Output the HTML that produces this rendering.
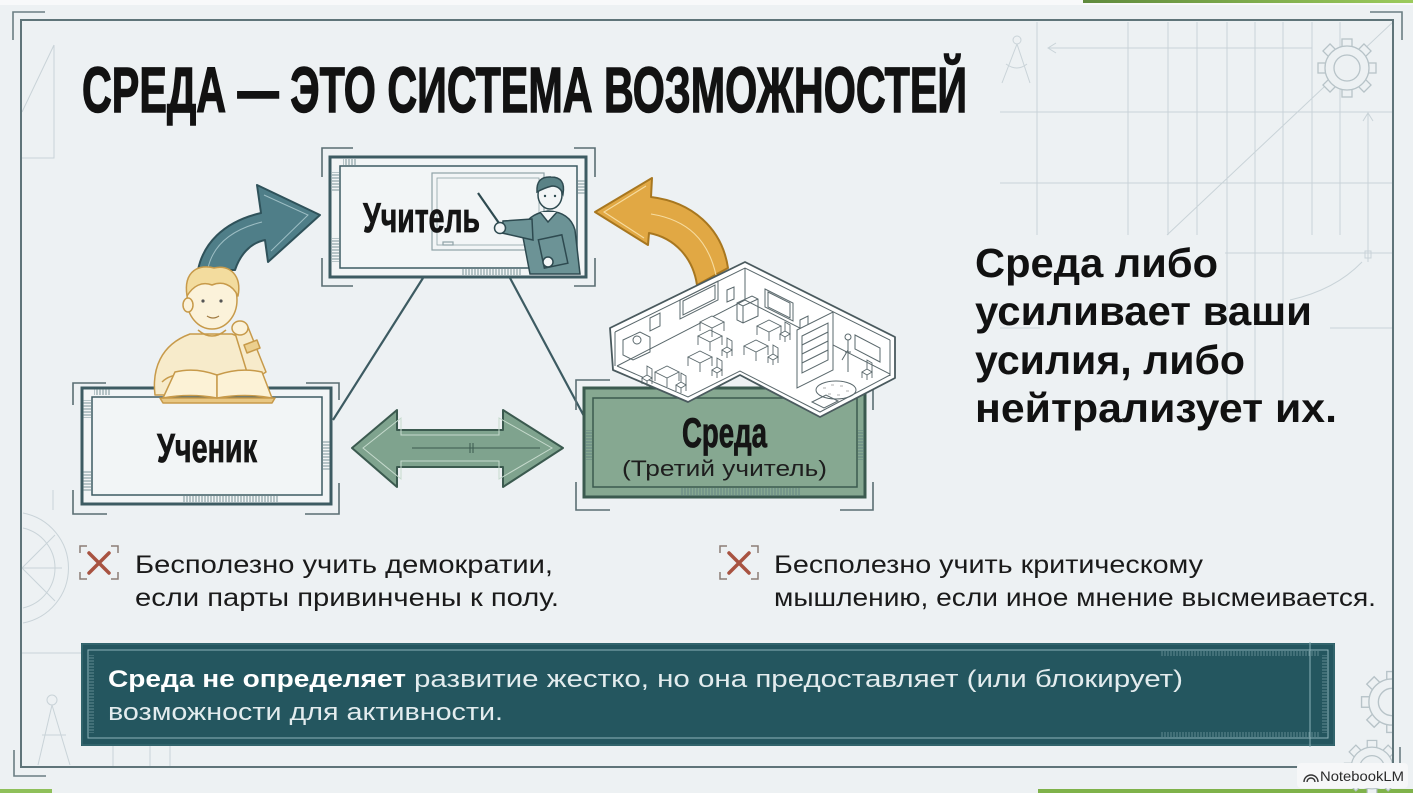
<!DOCTYPE html>
<html><head><meta charset="utf-8"><style>
html,body{margin:0;padding:0;background:#edf1f3;}
svg{display:block}
text{font-family:"Liberation Sans",sans-serif;}
</style></head><body>
<svg width="1413" height="793" viewBox="0 0 1413 793" xmlns="http://www.w3.org/2000/svg">
<defs>
<linearGradient id="gtop" x1="0" x2="1" y1="0" y2="0"><stop offset="0" stop-color="#5f8a3d"/><stop offset="1" stop-color="#9ccb5c"/></linearGradient>
<pattern id="tv" width="3" height="10" patternUnits="userSpaceOnUse"><line x1="1" y1="0" x2="1" y2="10" stroke="#5b7a80" stroke-width="0.8"/></pattern>
<pattern id="th" width="10" height="3" patternUnits="userSpaceOnUse"><line x1="0" y1="1" x2="10" y2="1" stroke="#5b7a80" stroke-width="0.8"/></pattern>
<pattern id="tvl" width="3" height="10" patternUnits="userSpaceOnUse"><line x1="1" y1="0" x2="1" y2="10" stroke="#6f979d" stroke-width="0.8"/></pattern>
<pattern id="thl" width="10" height="3" patternUnits="userSpaceOnUse"><line x1="0" y1="1" x2="10" y2="1" stroke="#6f979d" stroke-width="0.8"/></pattern>
<g id="gear" fill="#edf1f3" stroke="#b7c3c8" stroke-width="1.3">
<rect x="-5" y="-29" width="10" height="12"/>
<rect x="-5" y="-29" width="10" height="12" transform="rotate(45)"/>
<rect x="-5" y="-29" width="10" height="12" transform="rotate(90)"/>
<rect x="-5" y="-29" width="10" height="12" transform="rotate(135)"/>
<rect x="-5" y="-29" width="10" height="12" transform="rotate(180)"/>
<rect x="-5" y="-29" width="10" height="12" transform="rotate(225)"/>
<rect x="-5" y="-29" width="10" height="12" transform="rotate(270)"/>
<rect x="-5" y="-29" width="10" height="12" transform="rotate(315)"/>
<circle r="22"/>
<circle r="13" fill="none"/>
</g>
<g id="desk" fill="#fff" stroke="#5a686c" stroke-width="0.9">
<path d="M0,0 L12,-6 L24,0 L12,6 Z"/>
<path d="M0,0 V9 M24,0 V9 M12,6 V15" fill="none"/>
</g>
<g id="chair" fill="#fff" stroke="#5a686c" stroke-width="0.9">
<path d="M0,0 L5,-3 L10,0 L5,3 Z"/>
<path d="M0,0 V6 M10,0 V6 M5,3 V8 M10,0 V-9 L5,-12 V-3" fill="none"/>
</g>
<clipPath id="cr"><rect x="22" y="0" width="1371" height="793"/></clipPath>
</defs>

<rect width="1413" height="793" fill="#edf1f3"/>
<rect width="1413" height="5" fill="#f8f9fa"/>
<rect x="1083" y="0" width="330" height="3" fill="url(#gtop)"/>
<rect x="1038" y="789" width="375" height="4" fill="#7fb24a"/>
<rect x="0" y="789" width="52" height="4" fill="#8fc05a"/>

<!-- faint blueprint background -->
<g clip-path="url(#cr)">
<g stroke="#c9d3d8" stroke-width="1" fill="none">
<path d="M1037,22 V235 M1128,22 V235 M1168,22 V235 M1197,22 V235 M1227,22 V400 M1255,22 V400 M1283,22 V400 M1312,22 V235 M1340,22 V235"/>
<path d="M1000,112 H1393 M1000,183 H1393 M1225,253 H1393 M1330,328 H1393 M1000,328 H1040"/>
<path d="M1167,235 L1393,22"/>
<path d="M1048,48 H1312 M1056,43 L1048,48 L1056,53"/>
<path d="M1368,113 V262 M1363,121 L1368,113 L1373,121"/>
<rect x="1365" y="251" width="6" height="7"/>
<path d="M1290,300 Q1335,290 1362,262"/>
<circle cx="1017" cy="40" r="4"/>
<path d="M1017,44 L1002,83 M1017,44 L1030,83 M1006,64 Q1017,72 1027,64"/>
<path d="M54,45 L54,158 L22,158 M54,45 L22,112"/>
<path d="M23,513 A56,56 0 0 1 23,623 M23,528 A41,41 0 0 1 23,608 M22,568 L62,568 M22,568 L55,535 M22,568 L55,601"/>
<path d="M22,653 H81 M53,490 V510"/>
<circle cx="52" cy="700" r="5"/>
<path d="M52,705 L38,765 M52,705 L70,765 M42,735 L66,735"/>
<path d="M113,746 V767 M150,746 V767 M170,746 V767"/>
</g>
<use href="#gear" transform="translate(1347,68)"/>
<use href="#gear" transform="translate(1392,702) scale(1.05)"/>
<use href="#gear" transform="translate(1372,768) scale(0.95)"/>
</g>

<!-- frame -->
<rect x="21" y="20" width="1372" height="747" fill="none" stroke="#5f7479" stroke-width="2"/>
<g fill="none" stroke="#6b7e83" stroke-width="1.6">
<path d="M13,40 V12 H45"/>
<path d="M1370,12 H1402 V40"/>
<path d="M14,750 V776 H46"/>
<path d="M1400,747 V767"/>
</g>

<!-- title -->
<text x="82" y="112" font-size="64" font-weight="bold" fill="#121212" stroke="#121212" stroke-width="1.4" textLength="885" lengthAdjust="spacingAndGlyphs">СРЕДА — ЭТО СИСТЕМА ВОЗМОЖНОСТЕЙ</text>

<!-- connectors -->
<path d="M423,278 L333,420 M510,278 L585,418" stroke="#3d5b62" stroke-width="2.2" fill="none"/>

<!-- teacher box -->
<g fill="none" stroke="#5a6e73" stroke-width="1.6">
<path d="M322,177 V148 H353"/><path d="M574,148 H595 V177"/>
<path d="M322,258 V286 H353"/><path d="M574,286 H595 V258"/>
</g>
<rect x="330" y="157" width="256" height="120" fill="#f2f5f6" stroke="#3d5b62" stroke-width="3"/>
<rect x="340" y="166" width="237" height="102" fill="none" stroke="#3d5b62" stroke-width="1.5"/>
<rect x="343" y="159" width="14" height="6" fill="url(#tv)"/>
<rect x="462" y="269" width="60" height="6" fill="url(#tv)"/>
<rect x="332" y="172" width="7" height="20" fill="url(#th)"/>
<rect x="332" y="238" width="7" height="24" fill="url(#th)"/>
<rect x="578" y="180" width="7" height="14" fill="url(#th)"/>
<g fill="none" stroke="#8fa2a7" stroke-width="1.2">
<rect x="432" y="173" width="112" height="77"/>
<rect x="437" y="178" width="102" height="67" stroke-width="0.8"/>
<rect x="443" y="242" width="10" height="3"/>
</g>
<text x="363" y="232" font-size="42" font-weight="bold" fill="#151515" stroke="#151515" stroke-width="0.8" textLength="117" lengthAdjust="spacingAndGlyphs">Учитель</text>
<!-- teacher -->
<g stroke="#2e4a50" stroke-width="1.5">
<line x1="478" y1="193" x2="501" y2="226" stroke-width="2.2"/>
<path d="M522,232 Q526,214 548,211 Q570,212 575,230 L580,274 L530,274 Z" fill="#6c9396"/>
<path d="M532,219 L503,221 L502,233 L533,240 Z" fill="#6c9396"/>
<circle cx="500" cy="228" r="5.5" fill="#f2f5f6"/>
<path d="M540,212 L548,222 L557,212" fill="#f2f5f6"/>
<ellipse cx="550" cy="195" rx="12" ry="14" fill="#f2f5f6"/>
<path d="M537,192 Q536,176 551,177 Q566,177 563,194 Q560,186 552,186 Q544,188 537,192 Z" fill="#5a8286"/>
<rect x="541" y="237" width="24" height="29" fill="#6c9396" transform="rotate(-12 553 251)"/>
<circle cx="548" cy="262" r="5" fill="#f2f5f6"/>
</g>
<circle cx="545" cy="196" r="1.2" fill="#2e4a50"/><circle cx="555" cy="196" r="1.2" fill="#2e4a50"/>

<!-- left teal arrow -->
<path d="M198,270 C203,245 222,222 261,213 L257,185 L320,215 L268,262 L265,240 C250,243 240,255 235,270 Z" fill="#4f7e88" stroke="#2f525a" stroke-width="2" stroke-linejoin="round"/>
<path d="M208,268 C213,246 230,230 262,222 M264,195 L308,215 L271,251" fill="none" stroke="#9dbec4" stroke-width="1"/>

<!-- student box -->
<g fill="none" stroke="#5a6e73" stroke-width="1.6">
<path d="M73,405 V383 H106"/><path d="M306,383 H339 V400"/>
<path d="M73,490 V514 H107"/><path d="M305,514 H339 V483"/>
</g>
<rect x="82" y="388" width="249" height="116" fill="#f2f5f6" stroke="#3d5b62" stroke-width="3"/>
<rect x="92" y="397" width="230" height="98" fill="none" stroke="#3d5b62" stroke-width="1.5"/>
<rect x="182" y="496" width="96" height="6" fill="url(#tv)"/>
<rect x="94" y="389" width="16" height="6" fill="url(#tv)"/>
<rect x="83" y="400" width="8" height="18" fill="url(#th)"/>
<rect x="83" y="470" width="8" height="22" fill="url(#th)"/>
<rect x="323" y="440" width="7" height="30" fill="url(#th)"/>
<text x="157" y="462" font-size="41" font-weight="bold" fill="#151515" stroke="#151515" stroke-width="0.8" textLength="100" lengthAdjust="spacingAndGlyphs">Ученик</text>

<!-- student -->
<g stroke="#c79a4a" stroke-width="1.5" stroke-linejoin="round">
<path d="M155,395 C152,370 160,345 190,334 L232,334 C250,340 258,360 262,385 L262,395 Z" fill="#f7ebcb"/>
<path d="M250,382 L266,372 L248,327 L235,333 Z" fill="#f7ebcb"/>
<path d="M244,345 L257,340 L260,348 L247,353 Z" fill="#eccf8e"/>
<path d="M198,330 Q212,342 226,330" fill="none"/>
<ellipse cx="212" cy="300" rx="25" ry="29" fill="#fbf2da"/>
<ellipse cx="188" cy="305" rx="5" ry="7" fill="#fbf2da"/>
<path d="M187,296 C183,270 200,264 214,268 C230,264 242,276 238,296 C232,284 222,281 212,285 C202,281 193,286 187,296 Z" fill="#f3dc9e"/>
<ellipse cx="240" cy="328" rx="8" ry="7" fill="#fbf2da"/>
<path d="M162,382 C172,372 192,372 210,380" fill="none"/>
<path d="M160,398 L275,398 L272,403 L163,403 Z" fill="#e8c783"/>
<path d="M163,398 L175,372 Q195,367 217,375 L217,398 Q190,393 163,398 Z" fill="#fcf2d6"/>
<path d="M217,375 Q240,367 262,372 L272,398 Q245,393 217,398 Z" fill="#fcf2d6"/>
</g>
<g fill="#555"><circle cx="203" cy="301" r="1.6"/><circle cx="221" cy="301" r="1.6"/></g>
<path d="M207,316 Q213,320 219,316" fill="none" stroke="#a07a40" stroke-width="1.2"/>

<!-- double arrow -->
<path d="M352,448 L397,410 L397,430 L503,430 L503,410 L563,448 L503,487 L503,467 L397,467 L397,487 Z" fill="#7fa38e" stroke="#3b5a4f" stroke-width="2" stroke-linejoin="round"/>
<path d="M363,448 L401,418 L401,435 L499,435 L499,418 L552,448 L499,479 L499,461 L401,461 L401,479 Z" fill="none" stroke="#c6dacd" stroke-width="1"/>
<path d="M412,448 H540 M470,443 V453 M473,443 V453" stroke="#3b5a4f" stroke-width="1" fill="none"/>

<!-- sreda box -->
<g fill="none" stroke="#5a6e73" stroke-width="1.6">
<path d="M576,410 V380 H610"/><path d="M840,380 H873 V410"/>
<path d="M576,482 V510 H610"/><path d="M840,510 H873 V482"/>
</g>
<rect x="584" y="388" width="281" height="109" fill="#86a891" stroke="#3b5a4f" stroke-width="3"/>
<rect x="593" y="398" width="264" height="89" fill="none" stroke="#3b5a4f" stroke-width="1.5"/>
<rect x="680" y="488" width="120" height="8" fill="url(#tv)"/>
<rect x="585" y="430" width="7" height="30" fill="url(#th)"/>
<rect x="858" y="430" width="6" height="30" fill="url(#th)"/>
<text x="682" y="447" font-size="42" font-weight="bold" fill="#151515" stroke="#151515" stroke-width="0.8" textLength="85" lengthAdjust="spacingAndGlyphs">Среда</text>
<text x="622" y="476" font-size="22" fill="#1e1e1e" textLength="205" lengthAdjust="spacingAndGlyphs">(Третий учитель)</text>

<!-- orange arrow -->
<path d="M728,268 C722,228 692,202 651,197 L652,178 L595,212 L648,245 L649,233 C675,238 693,258 697,285 Z" fill="#e1a844" stroke="#a8771f" stroke-width="2" stroke-linejoin="round"/>
<path d="M716,275 C708,240 688,220 651,214 M646,186 L604,212 L644,238" fill="none" stroke="#f6dca0" stroke-width="1.1"/>

<!-- classroom -->
<path d="M610,328 L745,262 L895,337 L895,378 L820,417 L740,375 L688,402 L613,370 Z" fill="#ffffff" stroke="#4a5a5e" stroke-width="1.8" stroke-linejoin="round"/>
<g fill="none" stroke="#5a686c" stroke-width="1">
<path d="M615,332 L745,268 L890,340"/>
<path d="M615,332 V366 M745,268 V300 M890,340 V376"/>
<path d="M617,366 L745,300 L890,374"/>
<path d="M890,375 L820,412 L740,371 L688,397 L617,366"/>
<path d="M680,300 L718,281 L718,300 L680,319 Z M683,301 L715,285 L715,299 L683,315 Z"/>
<path d="M650,318 L660,313 L660,326 L650,331 Z M727,290 L734,287 L734,299 L727,302 Z"/>
<path d="M737,303 L752,296 L758,299 L758,316 L743,323 L737,320 Z M737,303 L743,306 L758,299 M743,306 V323"/>
<path d="M765,289 L793,303 L793,321 L765,307 Z M768,292 L790,303 L790,318 L768,307 Z"/>
<path d="M800,320 L808,316 L808,330 L800,334 Z"/>
<path d="M797,330 L833,312 L833,370 L797,388 Z" fill="#fff"/>
<path d="M802,336 L828,323 L828,360 L802,373 Z M802,345 L828,332 M802,354 L828,341 M802,363 L828,350"/>
<path d="M855,335 L880,348 L880,362 L855,349 Z"/>
<ellipse cx="836" cy="390" rx="20" ry="9"/>
<path d="M848,340 V372 M845,352 H851 M842,360 L848,350"/>
<circle cx="848" cy="337" r="3"/>
<circle cx="637" cy="340" r="4"/>
<path d="M623,340 L640,332 L650,337 L650,352 L633,360 L623,355 Z"/>
<path d="M812,402 L826,395 L838,401 L824,408 Z"/>
</g>
<g stroke="#999" stroke-width="0.8" fill="none"><path d="M823,388 h3 M831,385 h3 M840,386 h3 M846,391 h3 M828,394 h3 M837,395 h3"/></g>
<use href="#desk" transform="translate(698,336)"/>
<use href="#desk" transform="translate(744,346)"/>
<use href="#desk" transform="translate(688,357)"/>
<use href="#desk" transform="translate(655,372)"/>
<use href="#desk" transform="translate(757,326)"/>
<use href="#desk" transform="translate(700,322)"/>
<use href="#chair" transform="translate(722,350)"/>
<use href="#chair" transform="translate(768,357)"/>
<use href="#chair" transform="translate(712,370)"/>
<use href="#chair" transform="translate(676,385)"/>
<use href="#chair" transform="translate(780,334)"/>
<use href="#chair" transform="translate(642,378)"/>
<use href="#chair" transform="translate(862,372)"/>

<!-- right statement -->
<g font-weight="bold" font-size="41" fill="#111">
<text x="975" y="277" textLength="243" lengthAdjust="spacingAndGlyphs">Среда либо</text>
<text x="975" y="325" textLength="337" lengthAdjust="spacingAndGlyphs">усиливает ваши</text>
<text x="975" y="374" textLength="270" lengthAdjust="spacingAndGlyphs">усилия, либо</text>
<text x="975" y="422" textLength="362" lengthAdjust="spacingAndGlyphs">нейтрализует их.</text>
</g>

<!-- bullets -->
<g fill="none" stroke="#8c7d76" stroke-width="1.5">
<path d="M80,553 V546 H87 M111,546 H118 V553 M80,572 V579 H87 M111,579 H118 V572"/>
<path d="M720,553 V546 H727 M751,546 H758 V553 M720,572 V579 H727 M751,579 H758 V572"/>
</g>
<g stroke="#a85341" stroke-width="3.5" stroke-linecap="round">
<path d="M89,553 L109,573 M109,553 L89,573"/>
<path d="M729,553 L749,573 M749,553 L729,573"/>
</g>
<g font-size="25" fill="#1a1a1a">
<text x="135" y="573" textLength="418" lengthAdjust="spacingAndGlyphs">Бесполезно учить демократии,</text>
<text x="135" y="606" textLength="424" lengthAdjust="spacingAndGlyphs">если парты привинчены к полу.</text>
<text x="774" y="573" textLength="429" lengthAdjust="spacingAndGlyphs">Бесполезно учить критическому</text>
<text x="774" y="606" textLength="602" lengthAdjust="spacingAndGlyphs">мышлению, если иное мнение высмеивается.</text>
</g>

<!-- bottom bar -->
<rect x="81" y="643" width="1254" height="103" fill="#24565f"/>
<rect x="82" y="644" width="1252" height="101" fill="none" stroke="#3f7178" stroke-width="1"/>
<rect x="88" y="650" width="1240" height="88" fill="none" stroke="#8db2b8" stroke-width="1"/>
<rect x="1160" y="651" width="160" height="5" fill="url(#tvl)"/>
<rect x="1160" y="732" width="160" height="5" fill="url(#tvl)"/>
<rect x="89" y="655" width="5" height="78" fill="url(#thl)"/>
<rect x="1322" y="655" width="5" height="78" fill="url(#thl)"/>
<path d="M1310,642 V747" stroke="#8db2b8" stroke-width="1"/>
<text x="108" y="687" font-size="24" font-weight="bold" fill="#ffffff" textLength="298" lengthAdjust="spacingAndGlyphs">Среда не определяет</text>
<text x="414" y="687" font-size="24" fill="#e3ecee" textLength="769" lengthAdjust="spacingAndGlyphs">развитие жестко, но она предоставляет (или блокирует)</text>
<text x="108" y="720" font-size="24" fill="#e3ecee" textLength="395" lengthAdjust="spacingAndGlyphs">возможности для активности.</text>

<!-- NotebookLM badge -->
<rect x="1297" y="763" width="111" height="25" rx="4" fill="#f6f7f8"/>
<g fill="none" stroke="#333" stroke-width="1.4">
<path d="M1304,782 A7,7 0 0 1 1318,782 M1307,782 A4,4 0 0 1 1315,782"/>
</g>
<text x="1320" y="781" font-size="14" fill="#2b2b2b" textLength="84" lengthAdjust="spacingAndGlyphs">NotebookLM</text>
</svg>
</body></html>
